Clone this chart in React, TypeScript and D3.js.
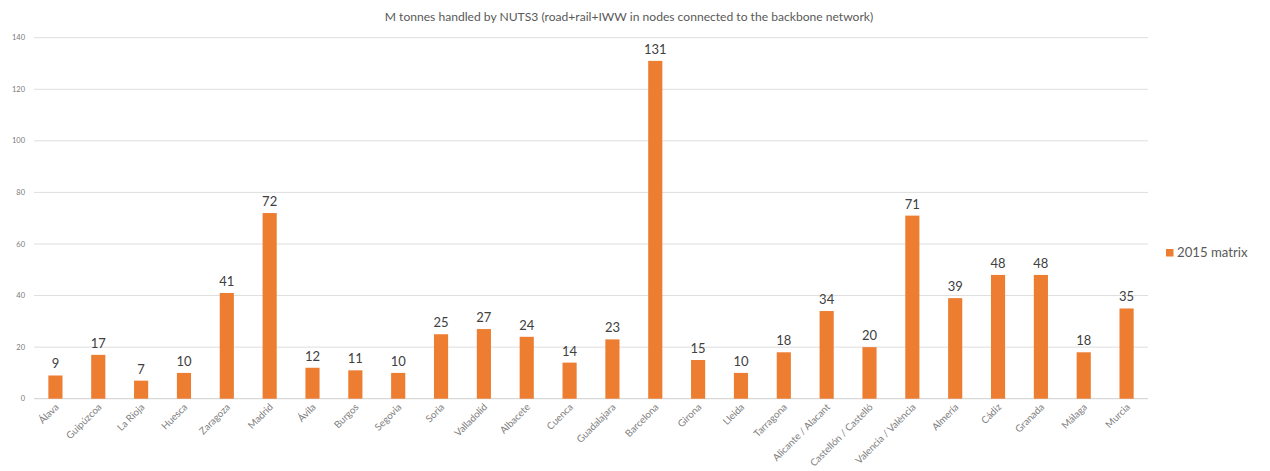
import React from "react";
import * as d3 from "d3";

const categories = [
  "Álava", "Guipúzcoa", "La Rioja", "Huesca", "Zaragoza", "Madrid", "Ávila", "Burgos",
  "Segovia", "Soria", "Valladolid", "Albacete", "Cuenca", "Guadalajara", "Barcelona",
  "Girona", "Lleida", "Tarragona", "Alicante / Alacant", "Castellón / Castelló",
  "Valencia / València", "Almería", "Cádiz", "Granada", "Málaga", "Murcia",
];
const values2015 = [9, 17, 7, 10, 41, 72, 12, 11, 10, 25, 27, 24, 14, 23, 131, 15, 10, 18, 34, 20, 71, 39, 48, 48, 18, 35];
const yTicks = [0, 20, 40, 60, 80, 100, 120, 140];
const title = "M tonnes handled by NUTS3 (road+rail+IWW in nodes connected to the backbone network)";
const seriesName = "2015 matrix";

const W = 1270;
const H = 471;
const FONT = "Lato, 'Open Sans', sans-serif";
const ORANGE = "#ED7D31";

export default function App() {
  const left = 34;
  const right = 1148;
  const top = 37.7;
  const bottom = 398.7;

  const x = d3.scaleBand<string>().domain(categories).range([left, right]).paddingInner(0.67).paddingOuter(0.335);
  const y = d3.scaleLinear().domain([0, 140]).range([bottom, top]);

  return (
    <svg width={W} height={H} style={{ position: "absolute", left: 0, top: 0, background: "#fff" }} fontFamily={FONT}>
      <rect width={W} height={H} fill="#fff" />
      <text x={629} y={21} textAnchor="middle" fontSize={12.1} fill="#595959">{title}</text>

      {yTicks.map((t) => (
        <g key={t}>
          <line x1={left} x2={right} y1={y(t)} y2={y(t)} stroke={t === 0 ? "#cfcfcf" : "#dedede"} strokeWidth={1} />
          <text x={25} y={y(t)} dy="0.35em" textAnchor="end" fontSize={7.5} fill="#7a7a7a">{t}</text>
        </g>
      ))}

      {categories.map((c, i) => {
        const v = values2015[i];
        const bx = x(c)!;
        const cx = bx + x.bandwidth() / 2;
        return (
          <g key={c}>
            <rect x={bx} y={y(v)} width={x.bandwidth()} height={bottom - y(v)} fill={ORANGE} />
            <text x={cx} y={y(v) - 7} textAnchor="middle" fontSize={13} fill="#404040">{v}</text>
            <text
              transform={`translate(${cx + 4},${bottom + 9}) rotate(-45)`}
              textAnchor="end"
              fontSize={9.8}
              fill="#808080"
            >{c}</text>
          </g>
        );
      })}

      <rect x={1166} y={249} width={7.5} height={7.5} fill={ORANGE} />
      <text x={1177} y={257} fontSize={13.2} fill="#595959">{seriesName}</text>
    </svg>
  );
}
